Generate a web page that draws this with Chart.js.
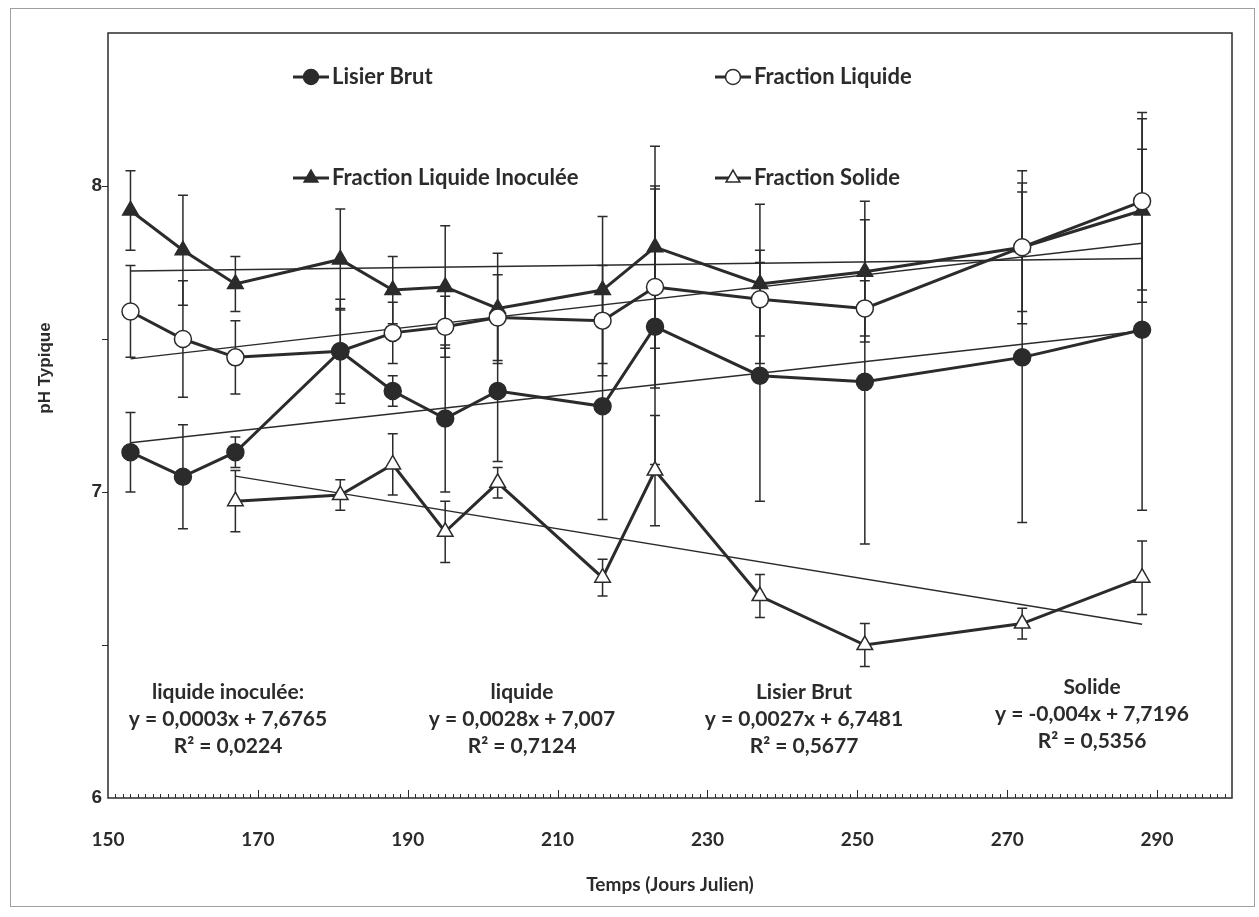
<!DOCTYPE html>
<html>
<head>
<meta charset="utf-8">
<title>pH Typique</title>
<script src="https://cdn.jsdelivr.net/npm/chart.js@4.4.1/dist/chart.umd.min.js"></script>
<style>
  html, body { margin: 0; padding: 0; background: #fff; }
  #box { width: 1259px; height: 917px; }
</style>
</head>
<body>
<div id="box"><canvas id="phChart" width="1259" height="917"></canvas></div>
<script>
// jours juliens des prélèvements
const jours = [153, 160, 167, 181, 188, 195, 202, 216, 223, 237, 251, 272, 288];
const joursSolide = [167, 181, 188, 195, 202, 216, 223, 237, 251, 272, 288];

const lisierBrut = [7.13, 7.05, 7.13, 7.46, 7.33, 7.24, 7.33, 7.28, 7.54, 7.38, 7.36, 7.44, 7.53];
const lisierBrutErr = [0.13, 0.17, 0.05, 0.17, 0.05, 0.24, 0.23, 0.37, 0.45, 0.41, 0.53, 0.54, 0.59];

const fractionLiquide = [7.59, 7.50, 7.44, 7.46, 7.52, 7.54, 7.57, 7.56, 7.67, 7.63, 7.60, 7.80, 7.95];
const fractionLiquideErr = [0.15, 0.19, 0.12, 0.14, 0.10, 0.10, 0.14, 0.18, 0.33, 0.12, 0.09, 0.25, 0.29];

const liquideInoculee = [7.92, 7.79, 7.68, 7.76, 7.66, 7.67, 7.60, 7.66, 7.80, 7.68, 7.72, 7.80, 7.92];
const liquideInoculeeErr = [0.13, 0.18, 0.09, 0.165, 0.11, 0.20, 0.18, 0.24, 0.33, 0.26, 0.23, 0.21, 0.30];

const fractionSolide = [6.97, 6.99, 7.09, 6.87, 7.03, 6.72, 7.07, 6.66, 6.50, 6.57, 6.72];
const fractionSolideErr = [0.10, 0.05, 0.10, 0.10, 0.05, 0.06, 0.18, 0.07, 0.07, 0.05, 0.12];

// courbes de tendance (extrémités)
const trendJours = [153, 288];
const trendJoursSolide = [167, 288];
const trendInoculee = [7.722, 7.763];
const trendLiquide = [7.435, 7.813];
const trendLisier = [7.161, 7.526];
const trendSolide = [7.052, 6.568];

const xTicks = [150, 170, 190, 210, 230, 250, 270, 290];
const yTicks = [6, 7, 8];

const legendLabels = ['Lisier Brut', 'Fraction Liquide', 'Fraction Liquide Inoculée', 'Fraction Solide'];
const equations = [
  ['liquide inoculée:', 'y = 0,0003x + 7,6765', 'R² = 0,0224'],
  ['liquide', 'y = 0,0028x + 7,007', 'R² = 0,7124'],
  ['Lisier Brut', 'y = 0,0027x + 6,7481', 'R² = 0,5677'],
  ['Solide', 'y = -0,004x + 7,7196', 'R² = 0,5356']
];

const ink = '#2b2b2b';
const LATO = 'Lato, "Open Sans", sans-serif';
const ARIAL = '"Liberation Sans", Arial, sans-serif';

function pts(xs, ys) {
  return xs.map((x, i) => ({ x: x, y: ys[i] }));
}

function serie(label, xs, ys, errs, style, fill) {
  return {
    label: label,
    data: pts(xs, ys),
    errorBars: errs,
    borderColor: ink,
    borderWidth: 3,
    backgroundColor: fill,
    pointStyle: style,
    pointRadius: style === 'triangle' ? 9 : 8.5,
    pointBorderColor: ink,
    pointBackgroundColor: fill,
    pointBorderWidth: 1.5,
    tension: 0,
    fill: false
  };
}

function trend(xs, ys) {
  return { label: 'tendance', data: pts(xs, ys), borderColor: ink, borderWidth: 1.4, pointRadius: 0, fill: false };
}

const errorBars = {
  id: 'errorBars',
  beforeDatasetsDraw(chart) {
    const { ctx, scales: { x, y } } = chart;
    ctx.save();
    ctx.strokeStyle = ink;
    ctx.lineWidth = 1.5;
    chart.data.datasets.forEach(ds => {
      if (!ds.errorBars) return;
      ds.data.forEach((p, i) => {
        const e = ds.errorBars[i];
        const px = x.getPixelForValue(p.x);
        const top = y.getPixelForValue(p.y + e);
        const bot = y.getPixelForValue(p.y - e);
        ctx.beginPath();
        ctx.moveTo(px, top); ctx.lineTo(px, bot);
        ctx.moveTo(px - 5, top); ctx.lineTo(px + 5, top);
        ctx.moveTo(px - 5, bot); ctx.lineTo(px + 5, bot);
        ctx.stroke();
      });
    });
    ctx.restore();
  }
};

const decor = {
  id: 'decor',
  beforeDraw(chart) {
    const ctx = chart.ctx;
    ctx.save();
    ctx.fillStyle = '#fff';
    ctx.fillRect(0, 0, chart.width, chart.height);
    ctx.strokeStyle = '#a0a0a0';
    ctx.lineWidth = 1;
    ctx.strokeRect(10.5, 8.5, 1244, 898);
    ctx.restore();
  },
  afterDraw(chart) {
    const { ctx, chartArea: a, scales: { x, y } } = chart;
    ctx.save();
    ctx.strokeStyle = ink;
    ctx.lineWidth = 1.5;
    ctx.strokeRect(a.left, a.top, a.right - a.left, a.bottom - a.top);

    // graduations x (intérieures), y (extérieures)
    ctx.lineWidth = 1;
    ctx.beginPath();
    for (let d = x.min + 1; d < x.max; d++) {
      const px = Math.round(x.getPixelForValue(d)) + 0.5;
      const len = (d - x.min) % 20 === 0 ? 8 : 4;
      ctx.moveTo(px, a.bottom); ctx.lineTo(px, a.bottom - len);
    }
    for (let v = 6.5; v < 8.5; v += 0.5) {
      const py = Math.round(y.getPixelForValue(v)) + 0.5;
      ctx.moveTo(a.left - 6, py); ctx.lineTo(a.left, py);
    }
    ctx.stroke();

    // titre axe y
    ctx.fillStyle = ink;
    ctx.font = 'bold 17px ' + ARIAL;
    ctx.textAlign = 'center';
    ctx.textBaseline = 'middle';
    ctx.save();
    ctx.translate(45, 368);
    ctx.rotate(-Math.PI / 2);
    ctx.fillText('pH Typique', 0, 0);
    ctx.restore();

    // légende
    const legendPos = [[293, 77], [715, 77], [293, 178], [715, 178]];
    const legendStyle = [['circle', ink], ['circle', '#fff'], ['triangle', ink], ['triangle', '#fff']];
    ctx.font = 'bold 22px ' + LATO;
    ctx.textAlign = 'left';
    legendLabels.forEach((lab, i) => {
      const [lx, ly] = legendPos[i];
      ctx.strokeStyle = ink;
      ctx.lineWidth = 3;
      ctx.beginPath();
      ctx.moveTo(lx, ly); ctx.lineTo(lx + 36, ly);
      ctx.stroke();
      ctx.fillStyle = legendStyle[i][1];
      ctx.lineWidth = 1.5;
      Chart.helpers.drawPoint(ctx, { pointStyle: legendStyle[i][0], radius: legendStyle[i][0] === 'triangle' ? 8 : 7.5, borderWidth: 1.5, rotation: 0 }, lx + 18, ly);
      ctx.fillStyle = ink;
      ctx.fillText(lab, lx + 39, ly);
    });

    // équations des tendances
    const eqPos = [[228, 692], [522, 692], [804, 692], [1092, 687]];
    ctx.font = 'bold 21px ' + LATO;
    ctx.textAlign = 'center';
    equations.forEach((lines, i) => {
      lines.forEach((t, j) => ctx.fillText(t, eqPos[i][0], eqPos[i][1] + j * 27));
    });
    ctx.restore();
  }
};

new Chart(document.getElementById('phChart'), {
  type: 'line',
  data: {
    datasets: [
      serie('Lisier Brut', jours, lisierBrut, lisierBrutErr, 'circle', ink),
      serie('Fraction Liquide', jours, fractionLiquide, fractionLiquideErr, 'circle', '#fff'),
      serie('Fraction Liquide Inoculée', jours, liquideInoculee, liquideInoculeeErr, 'triangle', ink),
      serie('Fraction Solide', joursSolide, fractionSolide, fractionSolideErr, 'triangle', '#fff'),
      trend(trendJours, trendInoculee),
      trend(trendJours, trendLiquide),
      trend(trendJours, trendLisier),
      trend(trendJoursSolide, trendSolide)
    ]
  },
  options: {
    responsive: false,
    animation: false,
    layout: { padding: { left: 0, right: 27, top: 33, bottom: 0 } },
    plugins: { legend: { display: false }, tooltip: { enabled: false } },
    scales: {
      x: {
        type: 'linear',
        min: 150,
        max: 300,
        afterBuildTicks: s => { s.ticks = xTicks.map(v => ({ value: v })); },
        afterFit: s => { s.height = 119; },
        grid: { display: false, drawTicks: false },
        border: { display: false },
        ticks: { padding: 30, color: ink, font: { family: LATO, size: 19, weight: 'bold' } },
        title: {
          display: true,
          text: 'Temps (Jours Julien)',
          color: ink,
          font: { family: LATO, size: 19, weight: 'bold' },
          padding: { top: 0, bottom: 21 }
        }
      },
      y: {
        min: 6,
        max: 8.5,
        afterBuildTicks: s => { s.ticks = yTicks.map(v => ({ value: v })); },
        afterFit: s => { s.width = 108; },
        grid: { display: false, drawTicks: false },
        border: { display: false },
        ticks: { padding: 6, color: ink, font: { family: ARIAL, size: 19, weight: 'bold' } }
      }
    }
  },
  plugins: [errorBars, decor]
});
</script>
</body>
</html>
